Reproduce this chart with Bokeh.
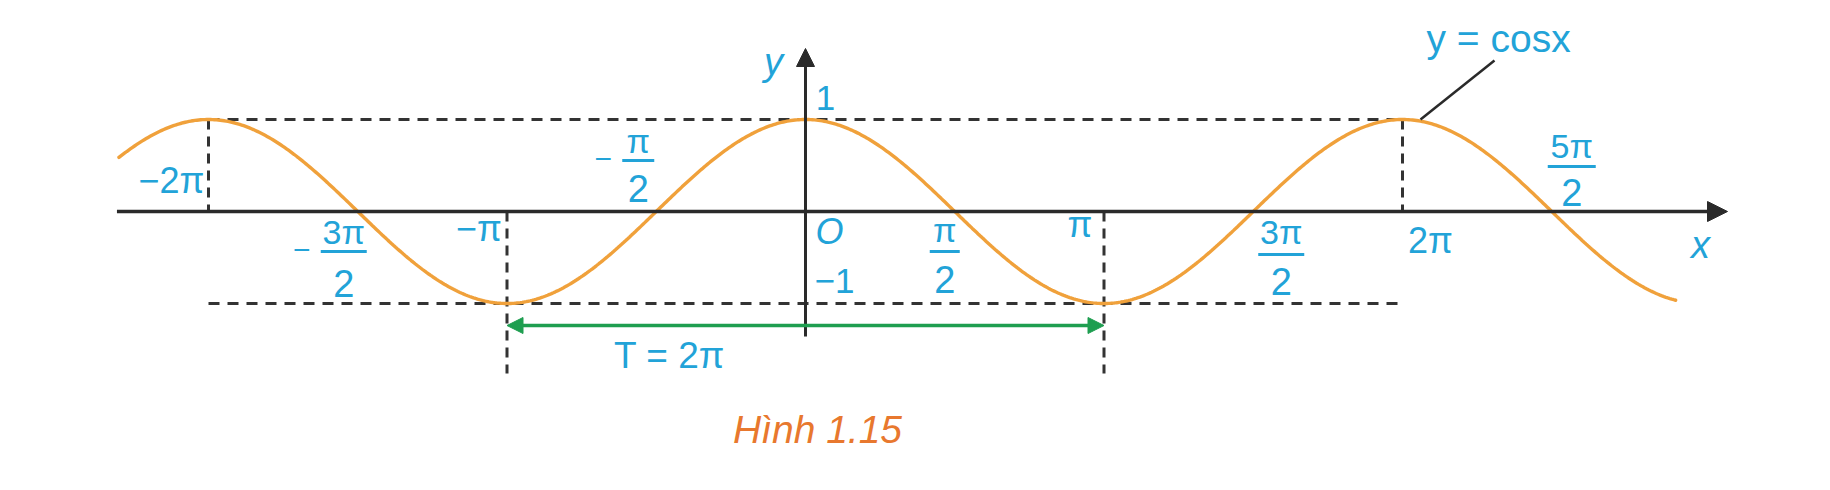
import numpy as np
from bokeh.plotting import figure
from bokeh.models import Arrow, NormalHead
from bokeh.core.properties import value
from bokeh.embed import file_html
from bokeh.resources import INLINE

PI = np.pi

# ---------------- data (positions in units of pi on x, plain units on y) -------------
curve_start_units = -2.3
curve_end_units = 2.915
simple_ticks = [-2, -1, 1, 2]
simple_labels = ["−2π", "−π", "π", "2π"]
frac_ticks = [-1.5, -0.5, 0.5, 1.5, 2.5]
frac_signs = ["−", "−", "", "", ""]
frac_nums = ["3π", "π", "π", "3π", "5π"]
frac_dens = ["2", "2", "2", "2", "2"]
y_ticks = [1, -1]
y_labels = ["1", "−1"]
period_ends = [-1, 1]          # T = 2π from -π to π
func_label = "y = cosx"
period_label = "T = 2π"
caption = "Hình 1.15"

# ---------------- layout / style ----------------
W, H = 1814, 474
OX, OY = 805, 211           # canvas pixel of origin
PX_PI, PX_UNIT = 298.5, 92.0
KB = 0.38                    # baseline correction (fraction of font size)

BLUE = "#22a3d8"
ORANGE = "#f0a13b"
GREEN = "#1e9e50"
DARK = "#2a2a2a"
DASH = "#333333"
CAPTION = "#e8782e"
FONT = value("Liberation Sans")


def dx(px):
    return px / PX_PI * PI


def dy(px):  # px measured downward on screen
    return -px / PX_UNIT


p = figure(width=W, height=H,
           x_range=(-OX / PX_PI * PI, (W - OX) / PX_PI * PI),
           y_range=(-(H - OY) / PX_UNIT, OY / PX_UNIT),
           output_backend="svg", toolbar_location=None,
           x_axis_type=None, y_axis_type=None,
           min_border=0, outline_line_color=None,
           background_fill_color="white", border_fill_color="white")

# ---- dashed guide lines ----
top_y, bot_y = max(y_ticks), min(y_ticks)
x_lo, x_hi = min(simple_ticks) * PI, max(simple_ticks) * PI
p.segment(x0=[x_lo, x_lo], y0=[top_y, bot_y], x1=[x_hi, x_hi], y1=[top_y, bot_y],
          line_color=DASH, line_width=3, line_dash="11 8")
p.segment(x0=[x_lo, x_hi], y0=[top_y, top_y], x1=[x_lo, x_hi], y1=[0, 0],
          line_color=DASH, line_width=3, line_dash="10 7")
pe = [u * PI for u in period_ends]
p.segment(x0=pe, y0=[0, 0], x1=pe, y1=[dy(162), dy(162)],
          line_color=DASH, line_width=3, line_dash="10 7")

# ---- axes ----
p.add_layout(Arrow(x_start=curve_start_units * PI - dx(2), y_start=0,
                   x_end=dx(922), y_end=0,
                   line_color=DARK, line_width=3.5,
                   end=NormalHead(size=20, fill_color=DARK, line_color=DARK, line_width=1)))
p.add_layout(Arrow(x_start=0, y_start=dy(125), x_end=0, y_end=dy(-163),
                   line_color=DARK, line_width=3,
                   end=NormalHead(size=18, fill_color=DARK, line_color=DARK, line_width=1)))

# ---- curve y = cos x ----
xs = np.linspace(curve_start_units * PI, curve_end_units * PI, 800)
p.line(xs, np.cos(xs), line_color=ORANGE, line_width=3.4, line_cap="round")

# ---- period arrow ----
arrow_y = bot_y + dy(22)
p.add_layout(Arrow(x_start=pe[0], y_start=arrow_y, x_end=pe[1], y_end=arrow_y,
                   line_color=GREEN, line_width=3.5,
                   start=NormalHead(size=16, fill_color=GREEN, line_color=GREEN, line_width=1),
                   end=NormalHead(size=16, fill_color=GREEN, line_color=GREEN, line_width=1)))

# leader line to the function label
p.segment(x0=[x_hi + dx(18)], y0=[top_y], x1=[x_hi + dx(92)], y1=[top_y + dy(-59)],
          line_color=DARK, line_width=2.5)


def txt(x, y_px, s, size, color=BLUE, style="normal", align="center", y0=0.0):
    """y_px: desired baseline, px below y0 (data)."""
    p.text(x=[x], y=[y0 + dy(y_px - KB * size)], text=[s], text_font=FONT,
           text_font_size=f"{size}px", text_font_style=style, text_color=color,
           text_align=align, text_baseline="alphabetic")


# ---- simple x labels ----
simple_dx = [-37, -28, -24, 28]
simple_base = [-17, 31, 27, 43]
for t, s, ox, by in zip(simple_ticks, simple_labels, simple_dx, simple_base):
    txt(t * PI + dx(ox), by, s, 36)

# ---- fraction x labels ----
frac_dx = [-14, -18, -10, 28, 20]
frac_half = [23, 16, 15, 23, 24]
frac_vpos = [(33, 40, 86), (-58, -51, -9), (31, 40, 82), (33, 43, 84), (-53, -45, -5)]
for t, sg, nu, de, ox, hl, (nb, bar, db) in zip(frac_ticks, frac_signs, frac_nums,
                                                frac_dens, frac_dx, frac_half, frac_vpos):
    cx = t * PI + dx(ox)
    txt(cx, nb, nu, 34)
    txt(cx, db, de, 38)
    p.segment(x0=[cx - dx(hl)], y0=[dy(bar)], x1=[cx + dx(hl)], y1=[dy(bar)],
              line_color=BLUE, line_width=3)
    if sg:
        txt(cx - dx(hl + 19), bar + 10, sg, 30)

# ---- y labels ----
y_dx = [20, 29]
y_base = [-100, 83]
for t, s, ox, by in zip(y_ticks, y_labels, y_dx, y_base):
    txt(dx(ox), by, s, 35)

# origin, axis names
txt(dx(24), 34, "O", 36, style="italic")
txt(dx(-32), -135, "y", 38, style="italic")
txt(dx(895), 48, "x", 38, style="italic")

# function label, period label, caption
txt(x_hi + dx(24), -158, func_label, 39, align="left")
txt(dx(-136), 158, period_label, 37)
txt(dx(12), 233, caption, 39, color=CAPTION, style="italic")

open("out.html", "w").write(file_html(p, INLINE))
